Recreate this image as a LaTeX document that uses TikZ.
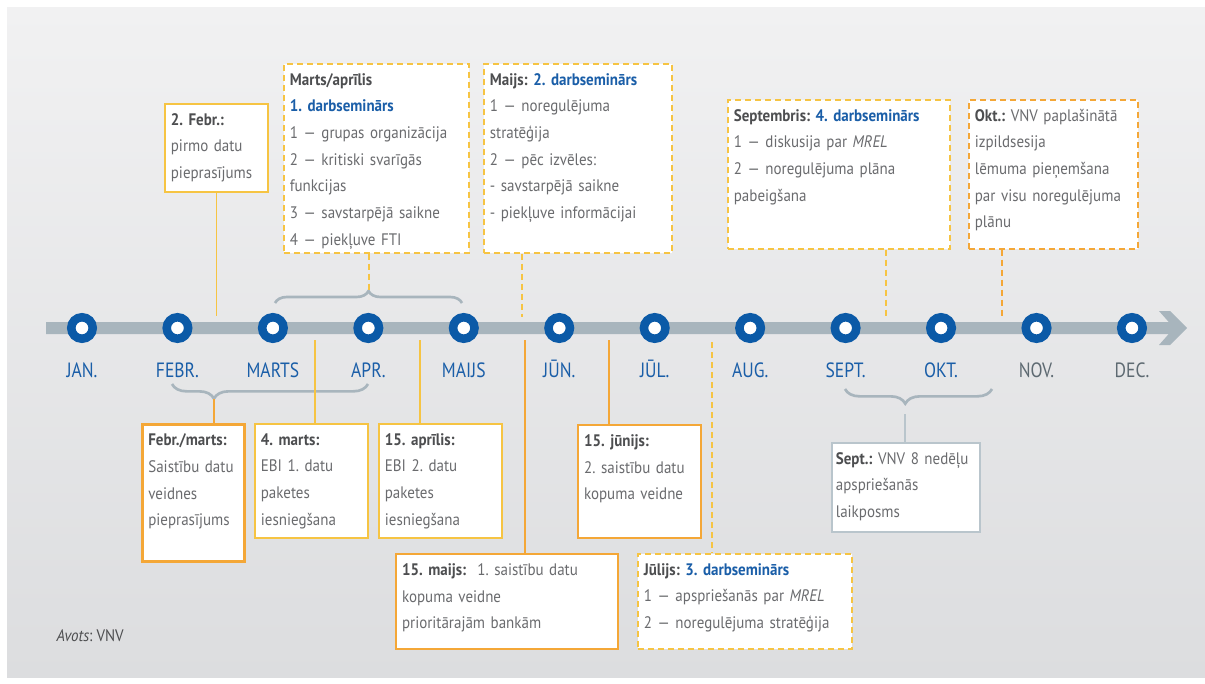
\documentclass[tikz,border=0pt]{standalone}
\usepackage{fontspec}
\setmainfont{PT Sans}[FakeStretch=0.9]
\newfontfamily\narrowsans{PT Sans}[FakeStretch=0.85]
\usetikzlibrary{positioning,decorations.pathreplacing}

\definecolor{panelTop}{HTML}{F1F1F2}
\definecolor{panelBot}{HTML}{DCDDDF}
\definecolor{barGray}{HTML}{A8B5BD}
\definecolor{ringBlue}{HTML}{0B5AA7}
\definecolor{txtBlue}{HTML}{1A5EA8}
\definecolor{txtGray}{HTML}{6A6B6E}
\definecolor{hdGray}{HTML}{4D4E50}
\definecolor{monGray}{HTML}{5E6A72}
\definecolor{boxYel}{HTML}{F6C443}
\definecolor{boxOra}{HTML}{F4A737}
\definecolor{boxGray}{HTML}{B9C5CC}

\newcommand\hdr[1]{{\bfseries\color{hdGray}#1}}
\newcommand\blu[1]{{\bfseries\color{txtBlue}#1}}
\hyphenpenalty=10000
\exhyphenpenalty=10000
\frenchspacing

\begin{document}
\begin{tikzpicture}[
x=0.75pt,y=-0.75pt,
box/.style={
  draw=boxYel,
  fill=white,
  line width=1.3pt,
  anchor=north west,
  align=left,
  text=txtGray,
  font=\fontsize{12.5}{20}\selectfont,
  inner xsep=4.5pt,
  inner ysep=6pt,
  text height=10pt
},
dbox/.style={box,dash pattern=on 4.5pt off 3pt},
obox/.style={box,draw=boxOra,line width=1.6pt},
con/.style={draw=boxYel,line width=1.1pt},
ocon/.style={con,draw=boxOra},
dcon/.style={con,dash pattern=on 4.5pt off 3pt},
brc/.style={draw=barGray,line width=2pt,decorate},
mon/.style={
  circle,
  draw=ringBlue,
  fill=white,
  line width=6.4pt,
  minimum size=16.1pt,
  inner sep=0pt
},
monlbl/.style={anchor=base,font=\narrowsans\fontsize{15.5}{15.5}\selectfont}
]
\useasboundingbox (0,0) rectangle (1205,684);
\fill[white] (0,0) rectangle (1205,684);
\shade[top color=panelTop,bottom color=panelBot] (7,8) rectangle (1205,677);

% timeline
\fill[barGray] (46,322) -- (1168.7,322) -- (1159,311) -- (1170,311) -- (1187,328)
  -- (1170,345) -- (1159,345) -- (1168.7,334) -- (46,334) -- cycle;
\foreach \m/\c [count=\i] in {JAN./txtBlue,FEBR./txtBlue,MARTS/txtBlue,APR./txtBlue,
  MAIJS/txtBlue,JŪN./txtBlue,JŪL./txtBlue,AUG./txtBlue,SEPT./txtBlue,OKT./txtBlue,
  NOV./monGray,DEC./monGray}{
  \node[mon] (m\i) at ({82+95.45*(\i-1)},328) {};
  \node[monlbl,text=\c] (l\i) at ({82+95.45*(\i-1)},377) {\m};
}

% braces
\coordinate (tipMA) at (369,291);
\coordinate (tipFA) at (214,399);
\coordinate (kSept) at (905,414);
\draw[brc,decoration={brace,amplitude=9pt}] (275,303) -- (462,303);
\draw[brc,decoration={brace,mirror,amplitude=11pt,aspect=0.214}] (172,384) -- (368,384);
\draw[brc,decoration={brace,mirror,amplitude=11pt,aspect=0.41}] (845,389) -- (992,389);

% points on the bar
\coordinate (kFeb) at (216,316);
\coordinate (kMaijs) at (522,317);
\coordinate (kSep4) at (886,317);
\coordinate (kOkt) at (1002,317);
\coordinate (kMar4) at (315,340);
\coordinate (kApr15) at (420,340);
\coordinate (kMai15) at (525,340);
\coordinate (kJun15) at (609,340);
\coordinate (kJul) at (712,342);

% upper boxes
\node[box,text width=68.25pt,text depth=44pt] (feb) at (164,103)
  {\hdr{2. Febr.:}\\ pirmo datu\\ pieprasījums};
\node[dbox,text width=129.75pt,text depth=119.75pt] (marApr) at (283,63)
  {\hdr{Marts/aprīlis}\\ \blu{1. darbseminārs}\\ 1 — grupas organizācija\\
   2 — kritiski svarīgās\\ funkcijas\\ 3 — savstarpējā saikne\\ 4 — piekļuve FTI};
\node[dbox,text width=132pt,text depth=119.75pt] (maijs) at (483,63)
  {\hdr{Maijs:} \blu{2. darbseminārs}\\ 1 — noregulējuma\\ stratēģija\\
   2 — pēc izvēles:\\ - savstarpējā saikne\\ - piekļuve informācijai};
\node[dbox,text width=157.5pt,text depth=89.75pt] (sep4) at (727,99)
  {\hdr{Septembris:} \blu{4. darbseminārs}\\ 1 — diskusija par \textit{MREL}\\
   2 — noregulējuma plāna\\ pabeigšana};
\node[dbox,draw=boxOra,text width=117.75pt,text depth=89.75pt] (okt) at (968,99)
  {\hdr{Okt.:} VNV paplašinātā\\ izpildsesija\\ lēmuma pieņemšana\\
   par visu noregulējuma\\ plānu};

% lower boxes
\node[obox,line width=2pt,text width=67.5pt,text depth=80.75pt] (febMar) at (141,423)
  {\hdr{Febr./marts:}\\ Saistību datu\\ veidnes\\ pieprasījums};
\node[box,text width=75.75pt,text depth=63.5pt] (mar4) at (254,423)
  {\hdr{4. marts:}\\ EBI 1. datu\\ paketes\\ iesniegšana};
\node[box,text width=83.25pt,text depth=63.5pt] (apr15) at (378,423)
  {\hdr{15. aprīlis:}\\ EBI 2. datu\\ paketes\\ iesniegšana};
\node[obox,text width=157.5pt,text depth=49.25pt] (mai15) at (395,553)
  {\hdr{15. maijs:}\ \ 1. saistību datu\\ kopuma veidne\\ prioritārajām bankām};
\node[obox,text width=83.25pt,text depth=62.75pt] (jun15) at (577,424)
  {\hdr{15. jūnijs:}\\ 2. saistību datu\\ kopuma veidne};
\node[dbox,text width=151.5pt,text depth=49.25pt] (jul) at (637,553)
  {\hdr{Jūlijs:} \blu{3. darbseminārs}\\ 1 — apspriešanās par \textit{MREL}\\
   2 — noregulējuma stratēģija};
\node[box,draw=boxGray,inner xsep=3pt,text width=105pt,text depth=44.75pt] (sept) at (831,442)
  {\hdr{Sept.:} VNV 8 nedēļu\\ apspriešanās\\ laikposms};

% connectors
\draw[con] (feb.south) -- (feb.south |- kFeb);
\draw[dcon] (tipMA |- marApr.south) -- (tipMA);
\draw[dcon] (kMaijs |- maijs.south) -- (kMaijs);
\draw[dcon] (kSep4 |- sep4.south) -- (kSep4);
\draw[dcon,draw=boxOra] (kOkt |- okt.south) -- (kOkt);
\draw[ocon] (tipFA) -- (tipFA |- febMar.north);
\draw[con] (kMar4) -- (kMar4 |- mar4.north);
\draw[con] (kApr15) -- (kApr15 |- apr15.north);
\draw[ocon] (kMai15) -- (kMai15 |- mai15.north);
\draw[ocon] (kJun15) -- (kJun15 |- jun15.north);
\draw[dcon] (kJul) -- (kJul |- jul.north);
\draw[con,draw=boxGray] (kSept) -- (kSept |- sept.north);

\node[anchor=base west,text=hdGray,font=\fontsize{12.5}{14}\selectfont] (src) at (52,641)
  {\textit{Avots}: VNV};

\end{tikzpicture}
\end{document}
